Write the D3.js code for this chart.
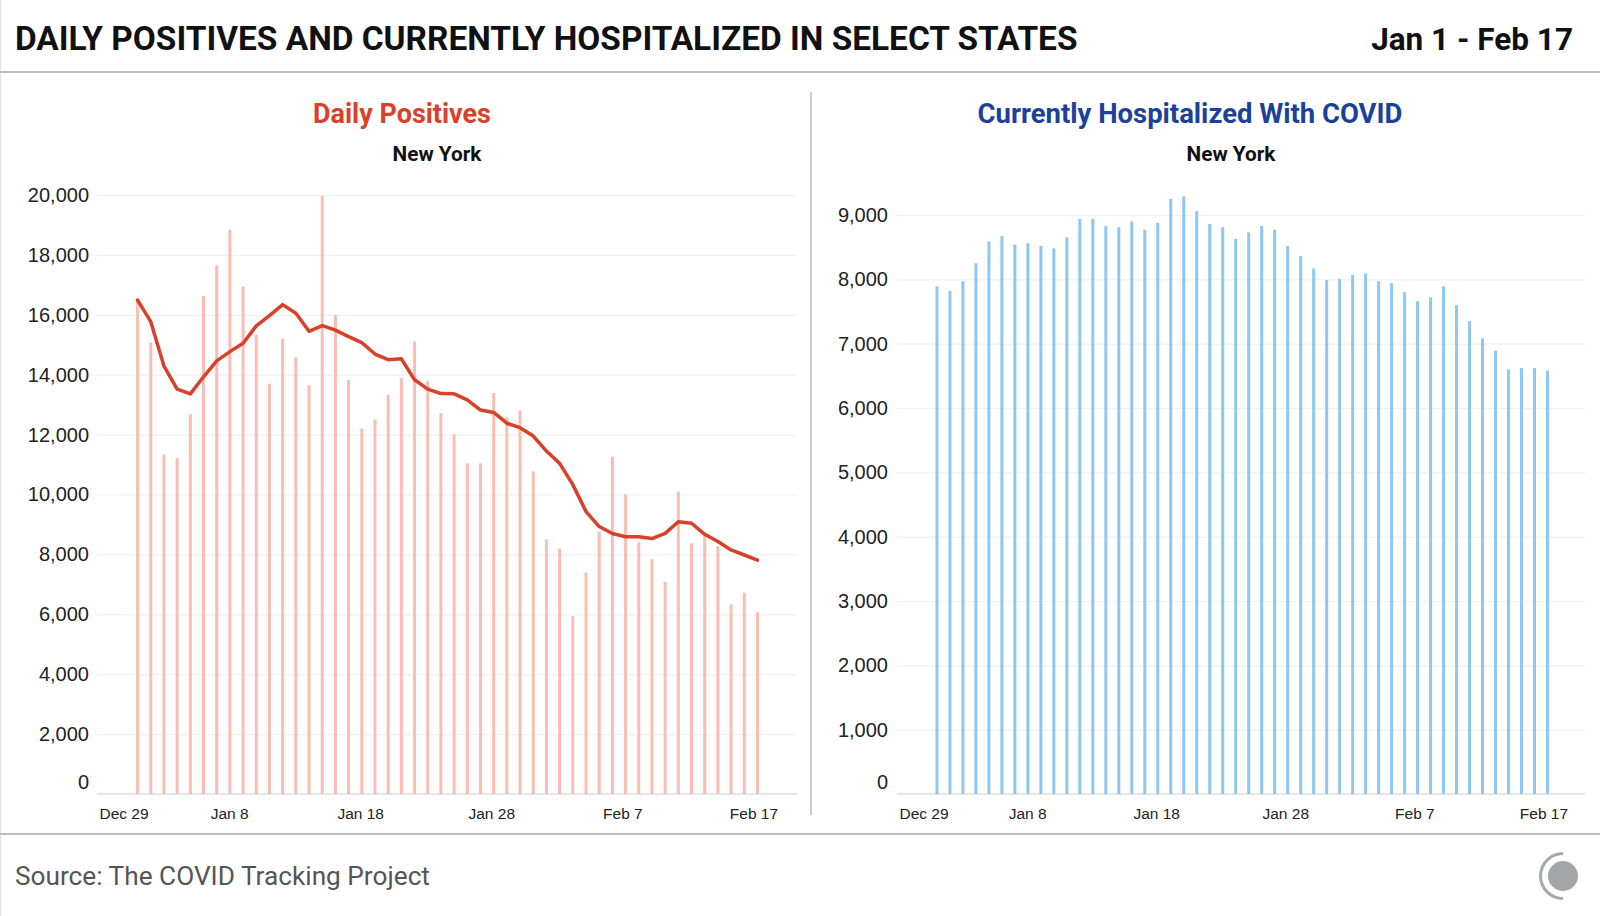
<!DOCTYPE html>
<html lang="en">
<head>
<meta charset="UTF-8">
<title>Daily Positives and Currently Hospitalized</title>
<script src="https://cdn.jsdelivr.net/npm/d3@7"></script>
<style>
    body { margin: 0; background: #fff; }
    svg { display: block; font-family: Roboto, "Open Sans", sans-serif; }
    .grid line { stroke: #f1f1f1; stroke-width: 1.2; }
    .grid path { display: none; }
    .yaxis path, .xaxis path { display: none; }
    .yaxis text { font-size: 20px; fill: #222; }
    .xaxis text { font-size: 15.5px; fill: #222; }
</style>
</head>
<body>
<div id="chart"></div>
<script>
// data (New York, Jan 1 - Feb 17 2021)
const firstDay = new Date(2021, 0, 1);
const lastDay = new Date(2021, 1, 17);

const dailyPositives = [16550, 15070, 11340, 11220, 12680, 16630, 17650, 18840, 16940, 15340,
    13700, 15200, 14580, 13650, 19970, 16000, 13830, 12200, 12500, 13330,
    13880, 15110, 13790, 12720, 12010, 11040, 11040, 13390, 12580, 12810,
    10770, 8500, 8190, 5940, 7390, 8760, 11260, 10010, 8410, 7840,
    7080, 10100, 8370, 8650, 8280, 6330, 6720, 6070];

const positivesAvg = [16490, 15770, 14290, 13520, 13360, 13930, 14460, 14770, 15050, 15630,
    15970, 16340, 16050, 15450, 15640, 15490, 15270, 15070, 14690, 14500,
    14530, 13830, 13520, 13370, 13360, 13160, 12820, 12740, 12380, 12230,
    11950, 11450, 11040, 10330, 9430, 8930, 8700, 8590, 8590, 8530,
    8700, 9090, 9040, 8670, 8430, 8150, 7980, 7810];

const hospitalized = [7890, 7820, 7970, 8250, 8590, 8670, 8540, 8560, 8520, 8480,
    8650, 8940, 8940, 8830, 8810, 8900, 8770, 8880, 9250, 9290,
    9060, 8860, 8810, 8630, 8730, 8830, 8770, 8520, 8360, 8170,
    7990, 8010, 8070, 8090, 7970, 7940, 7800, 7660, 7720, 7890,
    7600, 7350, 7080, 6890, 6600, 6620, 6620, 6580];

const tickDates = [new Date(2020, 11, 29), new Date(2021, 0, 8), new Date(2021, 0, 18),
    new Date(2021, 0, 28), new Date(2021, 1, 7), new Date(2021, 1, 17)];
const positivesTicks = [0, 2000, 4000, 6000, 8000, 10000, 12000, 14000, 16000, 18000, 20000];
const hospitalTicks = [0, 1000, 2000, 3000, 4000, 5000, 6000, 7000, 8000, 9000];

const days = d3.timeDay.range(firstDay, d3.timeDay.offset(lastDay, 1));

const W = 1600, H = 916;
const svg = d3.select("#chart").append("svg").attr("width", W).attr("height", H);

function fitWidth(t, w) {
    const cur = t.node().getComputedTextLength();
    t.attr("font-size", parseFloat(t.attr("font-size")) * w / cur);
}

// frame
svg.append("line").attr("x1", 0.5).attr("x2", 0.5).attr("y1", 0).attr("y2", H)
    .attr("stroke", "#e4e4e4").attr("stroke-width", 1.5);
svg.append("line").attr("x1", 0).attr("x2", W).attr("y1", 72).attr("y2", 72)
    .attr("stroke", "#bdbdbd").attr("stroke-width", 2);
svg.append("line").attr("x1", 0).attr("x2", W).attr("y1", 834).attr("y2", 834)
    .attr("stroke", "#bdbdbd").attr("stroke-width", 2);
svg.append("line").attr("x1", 811).attr("x2", 811).attr("y1", 92).attr("y2", 815)
    .attr("stroke", "#bdbdbd").attr("stroke-width", 1.5);

const title = svg.append("text").attr("x", 15).attr("y", 50)
    .attr("font-size", 32).attr("font-weight", 700).attr("fill", "#111")
    .text("DAILY POSITIVES AND CURRENTLY HOSPITALIZED IN SELECT STATES");
fitWidth(title, 1063);

const range = svg.append("text").attr("x", 1573).attr("y", 50).attr("text-anchor", "end")
    .attr("font-size", 32).attr("font-weight", 700).attr("fill", "#111")
    .text("Jan 1 - Feb 17");
fitWidth(range, 202);

const source = svg.append("text").attr("x", 15).attr("y", 885)
    .attr("font-size", 24).attr("fill", "#555")
    .text("Source: The COVID Tracking Project");
fitWidth(source, 415);

// logo
const logo = svg.append("g").attr("transform", "translate(1563,876)");
logo.append("circle").attr("r", 15).attr("fill", "#a2a6a6");
logo.append("path")
    .attr("d", d3.arc()({ innerRadius: 21, outerRadius: 24, startAngle: Math.PI, endAngle: Math.PI * 2 }))
    .attr("fill", "#a5a9a9");

function panel(opt) {
    const x = d3.scaleTime()
        .domain([tickDates[0], new Date(2021, 1, 20, 8)])
        .range([opt.left, opt.left + opt.dayW * 53.33]);
    const y = d3.scaleLinear().domain([0, opt.ticks[opt.ticks.length - 1]])
        .range([opt.base, opt.top]);

    const head = svg.append("text").attr("x", opt.titleX).attr("y", 123)
        .attr("text-anchor", "middle").attr("font-size", 25).attr("font-weight", 700)
        .attr("fill", opt.titleColor).text(opt.title);
    fitWidth(head, opt.titleW);
    const sub = svg.append("text").attr("x", opt.subX).attr("y", 161)
        .attr("text-anchor", "middle").attr("font-size", 19).attr("font-weight", 700)
        .attr("fill", "#111").text("New York");
    fitWidth(sub, 89);

    svg.append("g").attr("class", "grid")
        .attr("transform", `translate(${opt.left - 1},0)`)
        .call(d3.axisLeft(y).tickValues(opt.ticks.slice(1)).tickSize(-(opt.right - opt.left + 1)).tickFormat(""));

    svg.append("line").attr("x1", opt.left - 1).attr("x2", opt.right)
        .attr("y1", y(0)).attr("y2", y(0)).attr("stroke", "#dedede").attr("stroke-width", 1.5);

    const ya = svg.append("g").attr("class", "yaxis")
        .attr("transform", `translate(${opt.labelX},0)`)
        .call(d3.axisLeft(y).tickValues(opt.ticks).tickSize(0).tickPadding(0).tickFormat(d3.format(",")));
    ya.selectAll(".tick").filter(d => d === 0).select("text").attr("y", -12);

    const xa = svg.append("g").attr("class", "xaxis")
        .attr("transform", `translate(0,${y(0)})`)
        .call(d3.axisBottom(x).tickValues(tickDates).tickSize(0).tickPadding(14)
            .tickFormat(d3.timeFormat("%b %-d")));
    xa.selectAll(".tick text").attr("x", (d, i) => -0.8 * i);
    xa.selectAll(".tick").filter((d, i) => i === 0).select("text")
        .attr("text-anchor", "start").attr("x", opt.left + 1 - x(tickDates[0]));

    svg.append("g").selectAll("rect")
        .data(opt.values)
        .join("rect")
        .attr("x", (d, i) => x(days[i]) - 1.5)
        .attr("width", 3)
        .attr("y", d => y(d))
        .attr("height", d => y(0) - y(d))
        .attr("fill", opt.barColor);

    return { x, y };
}

const left = panel({
    left: 98, right: 797, dayW: 13.19, top: 195, base: 794, labelX: 89,
    ticks: positivesTicks, values: dailyPositives, barColor: "#fbbcb2",
    title: "Daily Positives", titleColor: "#d9412b", titleX: 402, titleW: 178, subX: 437
});

svg.append("path")
    .datum(positivesAvg)
    .attr("fill", "none")
    .attr("stroke", "#d9402a")
    .attr("stroke-width", 3.5)
    .attr("stroke-linejoin", "round")
    .attr("stroke-linecap", "round")
    .attr("d", d3.line().x((d, i) => left.x(days[i])).y(d => left.y(d)));

panel({
    left: 898, right: 1585, dayW: 12.99, top: 215, base: 794, labelX: 888,
    ticks: hospitalTicks, values: hospitalized, barColor: "#8ec7f2",
    title: "Currently Hospitalized With COVID", titleColor: "#1b4199", titleX: 1190, titleW: 425, subX: 1231
});
</script>
</body>
</html>
